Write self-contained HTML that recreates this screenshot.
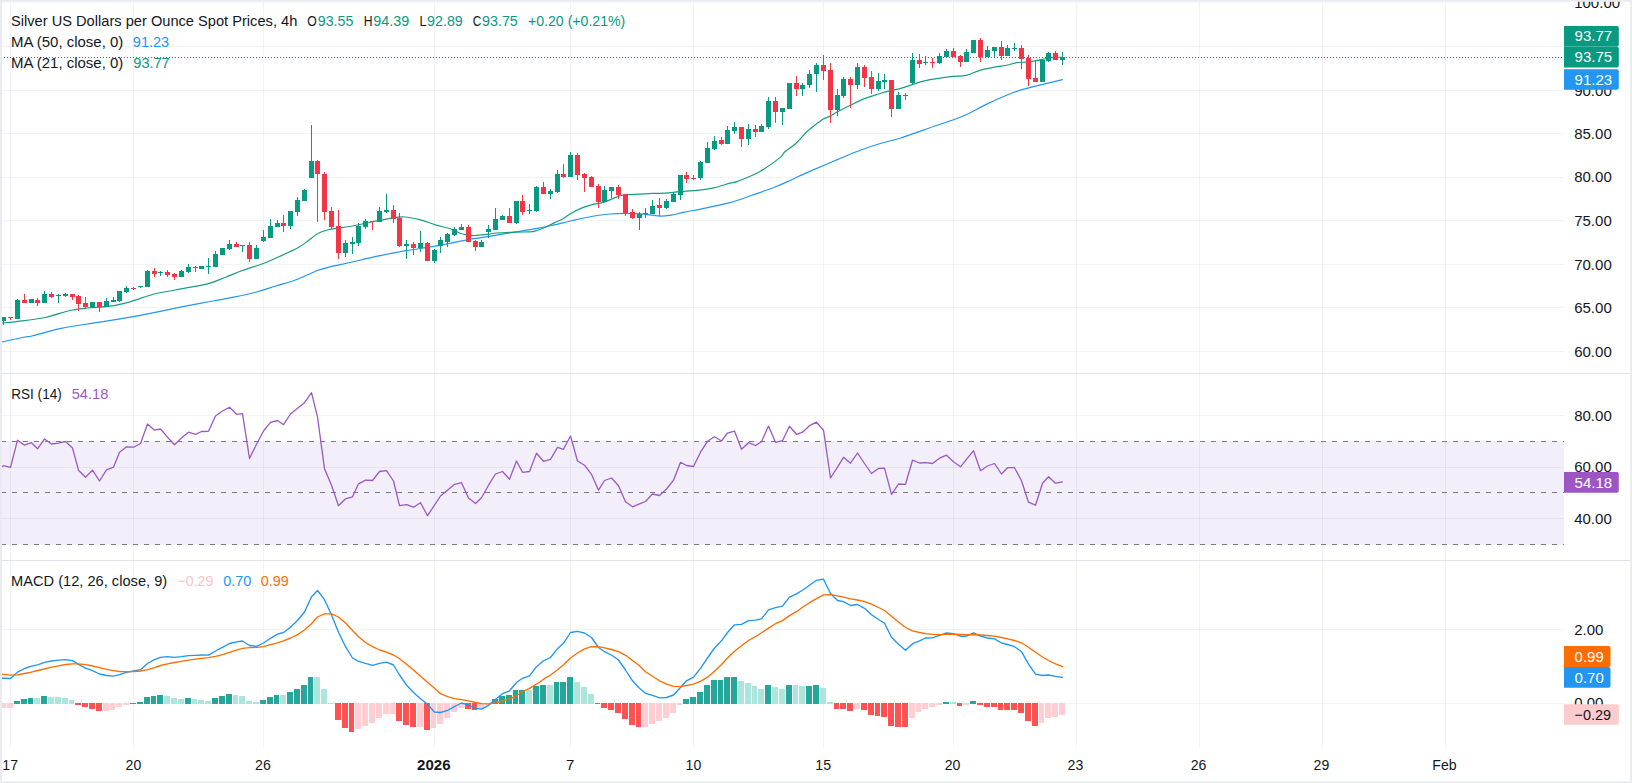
<!DOCTYPE html>
<html lang="en"><head><meta charset="utf-8"><title>Silver US Dollars per Ounce Spot Prices, 4h</title>
<style>html,body{margin:0;padding:0;background:#fff;overflow:hidden}svg{display:block}</style></head>
<body>
<svg width="1632" height="783" viewBox="0 0 1632 783" font-family='"Liberation Sans", "DejaVu Sans", sans-serif' font-size="15">
<rect width="1632" height="783" fill="#fff"/>
<rect x="2" y="441" width="1562" height="104" fill="#f2eefa"/>
<g fill="rgba(42,46,57,0.06)" shape-rendering="crispEdges">
<rect x="10" y="2" width="1" height="745"/>
<rect x="133" y="2" width="1" height="745"/>
<rect x="263" y="2" width="1" height="745"/>
<rect x="434" y="2" width="1" height="745"/>
<rect x="570" y="2" width="1" height="745"/>
<rect x="693" y="2" width="1" height="745"/>
<rect x="823" y="2" width="1" height="745"/>
<rect x="953" y="2" width="1" height="745"/>
<rect x="1076" y="2" width="1" height="745"/>
<rect x="1199" y="2" width="1" height="745"/>
<rect x="1322" y="2" width="1" height="745"/>
<rect x="1445" y="2" width="1" height="745"/>
<rect x="2" y="46" width="1562" height="1"/>
<rect x="2" y="90" width="1562" height="1"/>
<rect x="2" y="133" width="1562" height="1"/>
<rect x="2" y="177" width="1562" height="1"/>
<rect x="2" y="220" width="1562" height="1"/>
<rect x="2" y="264" width="1562" height="1"/>
<rect x="2" y="307" width="1562" height="1"/>
<rect x="2" y="351" width="1562" height="1"/>
<rect x="2" y="415" width="1562" height="1"/>
<rect x="2" y="467" width="1562" height="1"/>
<rect x="2" y="518" width="1562" height="1"/>
<rect x="2" y="629" width="1562" height="1"/>
<rect x="2" y="703" width="1562" height="1"/>
</g>
<rect x="2" y="373" width="1628" height="1" fill="#e0e3eb" shape-rendering="crispEdges"/>
<rect x="2" y="560" width="1628" height="1" fill="#e0e3eb" shape-rendering="crispEdges"/>
<line x1="1" x2="1564" y1="441.5" y2="441.5" stroke="#787b86" stroke-width="1" stroke-dasharray="5 6" shape-rendering="crispEdges"/>
<line x1="1" x2="1564" y1="492.5" y2="492.5" stroke="#787b86" stroke-width="1" stroke-dasharray="5 6" shape-rendering="crispEdges"/>
<line x1="1" x2="1564" y1="544.5" y2="544.5" stroke="#787b86" stroke-width="1" stroke-dasharray="5 6" shape-rendering="crispEdges"/>
<path d="M-4.0,343.3C-3.0,343.1 -2.8,343.1 2.0,342.0C6.8,340.9 20.0,338.0 25.0,337.0C30.0,336.0 25.9,337.4 31.9,336.0C37.9,334.6 50.3,330.7 61.3,328.4C72.3,326.1 86.0,324.3 98.1,322.3C110.2,320.3 123.0,318.5 133.8,316.6C144.5,314.7 151.5,313.0 162.5,310.8C173.5,308.6 189.6,305.3 200.0,303.3C210.4,301.3 215.8,300.6 225.0,298.8C234.2,296.9 246.7,294.6 255.0,292.5C263.3,290.4 267.9,288.5 275.0,286.2C282.1,284.0 290.4,281.9 297.5,279.2C304.6,276.6 311.7,272.7 317.5,270.5C323.3,268.3 327.1,267.6 332.5,266.2C337.9,264.9 342.1,264.3 350.0,262.5C357.9,260.7 370.9,257.6 380.0,255.7C389.1,253.8 395.3,252.5 404.5,250.9C413.7,249.3 425.0,248.0 435.2,246.2C445.4,244.4 457.0,241.7 465.8,240.1C474.6,238.5 479.7,238.0 487.9,236.7C496.1,235.4 506.9,233.4 514.9,232.1C522.9,230.8 529.6,229.8 535.7,228.7C541.8,227.6 545.9,226.8 551.7,225.5C557.5,224.2 563.9,222.5 570.5,221.0C577.1,219.5 584.8,217.7 591.3,216.5C597.8,215.3 604.0,214.5 609.7,214.0C615.4,213.5 620.5,213.4 625.6,213.4C630.7,213.4 635.9,213.5 640.4,213.8C644.9,214.1 649.3,214.8 652.6,215.2C655.9,215.6 656.9,216.1 660.0,216.1C663.1,216.1 667.1,215.8 671.0,215.2C674.9,214.6 678.2,213.5 683.3,212.4C688.4,211.3 693.9,210.4 701.7,208.8C709.5,207.2 721.7,204.8 730.0,202.6C738.3,200.3 744.2,197.9 751.7,195.3C759.2,192.7 768.6,189.5 775.0,187.0C781.4,184.5 784.5,183.0 790.0,180.5C795.5,178.0 801.3,175.0 808.0,172.1C814.7,169.2 822.0,166.2 830.0,162.8C838.0,159.5 847.7,155.1 855.7,152.0C863.7,148.9 870.4,146.6 877.8,144.3C885.2,142.0 891.3,140.9 900.0,138.2C908.7,135.4 919.5,131.5 930.0,127.8C940.5,124.1 953.9,119.9 963.2,116.0C972.5,112.1 977.3,108.5 985.8,104.6C994.3,100.6 1006.8,95.1 1014.0,92.3C1021.2,89.5 1023.0,89.4 1028.8,87.8C1034.6,86.2 1043.4,84.1 1049.0,82.8C1054.6,81.5 1060.2,80.2 1062.5,79.7" fill="none" stroke="#2196f3" stroke-width="1.2" stroke-linejoin="round" stroke-linecap="round"/>
<path d="M-4.0,323.6C-3.0,323.5 -1.2,323.3 2.0,323.0C5.2,322.7 7.8,322.7 15.0,321.8C22.2,320.8 35.8,319.4 45.0,317.5C54.2,315.6 62.9,312.1 70.0,310.5C77.1,308.9 80.8,308.7 87.5,308.0C94.2,307.3 102.9,307.3 110.0,306.2C117.1,305.2 122.9,303.7 130.0,301.8C137.1,299.8 145.0,296.5 152.5,294.5C160.0,292.5 165.8,291.8 175.0,290.0C184.2,288.2 199.2,285.8 207.5,283.8C215.8,281.7 219.2,279.7 225.0,277.5C230.8,275.3 236.2,272.8 242.5,270.5C248.8,268.2 256.2,266.1 262.5,263.8C268.8,261.4 274.2,258.9 280.0,256.2C285.8,253.6 292.9,250.5 297.5,248.0C302.1,245.5 304.2,243.6 307.5,241.2C310.8,238.9 314.2,235.6 317.5,233.8C320.8,231.9 324.2,230.9 327.5,230.0C330.8,229.1 332.9,229.0 337.5,228.2C342.1,227.5 348.8,226.7 355.0,225.5C361.2,224.3 370.8,222.1 375.0,221.2C379.2,220.4 377.1,221.2 380.0,220.6C382.9,220.0 388.2,218.4 392.3,217.8C396.4,217.2 399.8,216.7 404.5,217.0C409.2,217.3 415.4,218.6 420.5,219.9C425.6,221.2 430.1,223.3 435.2,224.8C440.3,226.3 447.0,227.6 451.1,229.0C455.2,230.4 457.2,232.1 459.7,233.0C462.1,233.9 463.4,234.2 465.8,234.6C468.2,235.0 470.7,235.6 474.4,235.5C478.1,235.4 484.2,234.7 487.9,234.3C491.6,233.9 492.0,233.4 496.5,233.0C501.0,232.6 509.4,232.3 514.9,232.1C520.4,231.9 526.1,232.1 529.6,231.9C533.1,231.7 533.1,231.7 535.7,230.9C538.4,230.1 542.4,228.5 545.5,227.2C548.6,225.9 551.2,224.3 554.1,222.9C557.0,221.5 560.0,220.5 562.7,219.0C565.4,217.5 567.0,215.6 570.3,213.7C573.6,211.8 578.8,209.2 582.7,207.6C586.6,206.0 590.3,205.1 593.8,204.2C597.3,203.3 599.9,203.4 603.6,202.3C607.3,201.2 612.5,198.6 615.8,197.4C619.1,196.2 620.1,195.5 623.2,195.0C626.3,194.5 629.3,194.7 634.2,194.4C639.1,194.1 647.5,193.6 652.6,193.4C657.7,193.2 660.4,193.5 664.9,193.2C669.4,192.9 673.5,192.3 679.6,191.7C685.7,191.1 696.0,190.4 701.7,189.8C707.4,189.2 709.2,189.0 713.9,187.9C718.6,186.8 726.1,184.3 730.0,183.2C733.9,182.1 732.5,183.4 737.5,181.4C742.5,179.4 752.9,175.4 760.0,171.4C767.1,167.4 775.9,160.8 780.0,157.6C784.1,154.4 782.0,154.3 784.6,152.0C787.2,149.7 791.7,147.2 795.6,143.7C799.5,140.2 803.4,134.9 807.9,130.8C812.4,126.8 818.8,121.9 822.6,119.4C826.4,117.0 828.0,117.4 830.5,116.1C833.0,114.8 834.1,113.6 837.5,111.8C840.9,110.0 846.3,107.2 850.8,105.0C855.3,102.8 859.8,100.4 864.4,98.6C869.0,96.8 874.5,95.2 878.4,94.0C882.3,92.8 884.0,92.2 887.6,91.3C891.2,90.4 895.9,89.7 900.0,88.6C904.1,87.5 908.2,85.9 912.3,84.6C916.4,83.3 920.4,81.9 924.5,80.9C928.6,79.9 932.0,79.3 936.8,78.6C941.6,77.8 948.4,76.9 953.3,76.4C958.2,75.9 961.8,76.4 966.2,75.4C970.6,74.4 975.0,71.7 979.7,70.3C984.4,68.9 989.7,68.1 994.4,67.2C999.1,66.3 1004.2,65.8 1007.9,65.0C1011.6,64.2 1013.4,63.1 1016.5,62.6C1019.6,62.1 1023.2,62.4 1026.3,62.1C1029.4,61.8 1032.2,61.3 1034.9,60.8C1037.6,60.3 1039.9,59.8 1042.2,59.3C1044.5,58.8 1046.8,58.3 1049.0,58.0C1051.2,57.7 1053.5,57.4 1055.7,57.3C1058.0,57.2 1061.4,57.3 1062.5,57.3" fill="none" stroke="#1a9c82" stroke-width="1.2" stroke-linejoin="round" stroke-linecap="round"/>
<g shape-rendering="crispEdges">
<rect x="3" y="317" width="1" height="8" fill="#089981"/>
<rect x="1" y="317" width="5" height="4" fill="#089981"/>
<rect x="10" y="317" width="1" height="3" fill="#f23645"/>
<rect x="8" y="317" width="5" height="1" fill="#f23645"/>
<rect x="17" y="299" width="1" height="20" fill="#089981"/>
<rect x="15" y="300" width="5" height="19" fill="#089981"/>
<rect x="24" y="294" width="1" height="9" fill="#f23645"/>
<rect x="22" y="300" width="5" height="3" fill="#f23645"/>
<rect x="31" y="299" width="1" height="4" fill="#089981"/>
<rect x="29" y="299" width="5" height="4" fill="#089981"/>
<rect x="37" y="298" width="1" height="8" fill="#f23645"/>
<rect x="35" y="300" width="5" height="3" fill="#f23645"/>
<rect x="44" y="291" width="1" height="12" fill="#089981"/>
<rect x="42" y="294" width="5" height="9" fill="#089981"/>
<rect x="51" y="292" width="1" height="6" fill="#f23645"/>
<rect x="49" y="294" width="5" height="3" fill="#f23645"/>
<rect x="58" y="294" width="1" height="9" fill="#089981"/>
<rect x="56" y="295" width="5" height="1" fill="#089981"/>
<rect x="65" y="293" width="1" height="4" fill="#089981"/>
<rect x="63" y="294" width="5" height="2" fill="#089981"/>
<rect x="72" y="294" width="1" height="6" fill="#f23645"/>
<rect x="70" y="294" width="5" height="3" fill="#f23645"/>
<rect x="78" y="295" width="1" height="16" fill="#f23645"/>
<rect x="76" y="296" width="5" height="8" fill="#f23645"/>
<rect x="85" y="297" width="1" height="12" fill="#f23645"/>
<rect x="83" y="303" width="5" height="4" fill="#f23645"/>
<rect x="92" y="302" width="1" height="5" fill="#089981"/>
<rect x="90" y="302" width="5" height="5" fill="#089981"/>
<rect x="99" y="302" width="1" height="10" fill="#f23645"/>
<rect x="97" y="302" width="5" height="5" fill="#f23645"/>
<rect x="106" y="298" width="1" height="9" fill="#089981"/>
<rect x="104" y="301" width="5" height="6" fill="#089981"/>
<rect x="113" y="297" width="1" height="5" fill="#089981"/>
<rect x="111" y="300" width="5" height="2" fill="#089981"/>
<rect x="119" y="291" width="1" height="11" fill="#089981"/>
<rect x="117" y="291" width="5" height="10" fill="#089981"/>
<rect x="126" y="286" width="1" height="7" fill="#089981"/>
<rect x="124" y="288" width="5" height="4" fill="#089981"/>
<rect x="133" y="287" width="1" height="3" fill="#f23645"/>
<rect x="131" y="288" width="5" height="1" fill="#f23645"/>
<rect x="140" y="286" width="1" height="2" fill="#089981"/>
<rect x="138" y="286" width="5" height="1" fill="#089981"/>
<rect x="147" y="270" width="1" height="17" fill="#089981"/>
<rect x="145" y="271" width="5" height="16" fill="#089981"/>
<rect x="154" y="268" width="1" height="9" fill="#f23645"/>
<rect x="152" y="271" width="5" height="3" fill="#f23645"/>
<rect x="160" y="271" width="1" height="5" fill="#089981"/>
<rect x="158" y="272" width="5" height="1" fill="#089981"/>
<rect x="167" y="270" width="1" height="7" fill="#f23645"/>
<rect x="165" y="272" width="5" height="3" fill="#f23645"/>
<rect x="174" y="273" width="1" height="7" fill="#f23645"/>
<rect x="172" y="274" width="5" height="3" fill="#f23645"/>
<rect x="181" y="270" width="1" height="7" fill="#089981"/>
<rect x="179" y="271" width="5" height="6" fill="#089981"/>
<rect x="188" y="264" width="1" height="9" fill="#089981"/>
<rect x="186" y="267" width="5" height="5" fill="#089981"/>
<rect x="195" y="266" width="1" height="6" fill="#f23645"/>
<rect x="193" y="267" width="5" height="1" fill="#f23645"/>
<rect x="201" y="266" width="1" height="3" fill="#089981"/>
<rect x="199" y="266" width="5" height="3" fill="#089981"/>
<rect x="208" y="258" width="1" height="16" fill="#089981"/>
<rect x="206" y="266" width="5" height="1" fill="#089981"/>
<rect x="215" y="251" width="1" height="16" fill="#089981"/>
<rect x="213" y="254" width="5" height="13" fill="#089981"/>
<rect x="222" y="248" width="1" height="7" fill="#089981"/>
<rect x="220" y="248" width="5" height="7" fill="#089981"/>
<rect x="229" y="240" width="1" height="10" fill="#089981"/>
<rect x="227" y="244" width="5" height="5" fill="#089981"/>
<rect x="236" y="242" width="1" height="5" fill="#f23645"/>
<rect x="234" y="244" width="5" height="3" fill="#f23645"/>
<rect x="242" y="245" width="1" height="7" fill="#089981"/>
<rect x="240" y="245" width="5" height="1" fill="#089981"/>
<rect x="249" y="242" width="1" height="20" fill="#f23645"/>
<rect x="247" y="245" width="5" height="14" fill="#f23645"/>
<rect x="256" y="245" width="1" height="14" fill="#089981"/>
<rect x="254" y="248" width="5" height="11" fill="#089981"/>
<rect x="263" y="230" width="1" height="12" fill="#089981"/>
<rect x="261" y="237" width="5" height="4" fill="#089981"/>
<rect x="270" y="219" width="1" height="19" fill="#089981"/>
<rect x="268" y="226" width="5" height="12" fill="#089981"/>
<rect x="277" y="220" width="1" height="7" fill="#089981"/>
<rect x="275" y="223" width="5" height="4" fill="#089981"/>
<rect x="283" y="215" width="1" height="17" fill="#f23645"/>
<rect x="281" y="223" width="5" height="3" fill="#f23645"/>
<rect x="290" y="211" width="1" height="18" fill="#089981"/>
<rect x="288" y="211" width="5" height="15" fill="#089981"/>
<rect x="297" y="197" width="1" height="19" fill="#089981"/>
<rect x="295" y="200" width="5" height="12" fill="#089981"/>
<rect x="304" y="189" width="1" height="12" fill="#089981"/>
<rect x="302" y="190" width="5" height="11" fill="#089981"/>
<rect x="311" y="125" width="1" height="53" fill="#089981"/>
<rect x="309" y="161" width="5" height="17" fill="#089981"/>
<rect x="317" y="160" width="1" height="62" fill="#f23645"/>
<rect x="315" y="161" width="5" height="13" fill="#f23645"/>
<rect x="324" y="172" width="1" height="48" fill="#f23645"/>
<rect x="322" y="174" width="5" height="38" fill="#f23645"/>
<rect x="331" y="207" width="1" height="22" fill="#f23645"/>
<rect x="329" y="211" width="5" height="16" fill="#f23645"/>
<rect x="338" y="210" width="1" height="49" fill="#f23645"/>
<rect x="336" y="226" width="5" height="27" fill="#f23645"/>
<rect x="345" y="240" width="1" height="17" fill="#089981"/>
<rect x="343" y="243" width="5" height="10" fill="#089981"/>
<rect x="352" y="237" width="1" height="17" fill="#089981"/>
<rect x="350" y="242" width="5" height="2" fill="#089981"/>
<rect x="358" y="223" width="1" height="23" fill="#089981"/>
<rect x="356" y="226" width="5" height="17" fill="#089981"/>
<rect x="365" y="219" width="1" height="10" fill="#089981"/>
<rect x="363" y="221" width="5" height="6" fill="#089981"/>
<rect x="372" y="221" width="1" height="9" fill="#f23645"/>
<rect x="370" y="221" width="5" height="1" fill="#f23645"/>
<rect x="379" y="207" width="1" height="15" fill="#089981"/>
<rect x="377" y="211" width="5" height="11" fill="#089981"/>
<rect x="386" y="194" width="1" height="19" fill="#089981"/>
<rect x="384" y="210" width="5" height="2" fill="#089981"/>
<rect x="393" y="205" width="1" height="18" fill="#f23645"/>
<rect x="391" y="210" width="5" height="9" fill="#f23645"/>
<rect x="399" y="213" width="1" height="34" fill="#f23645"/>
<rect x="397" y="218" width="5" height="28" fill="#f23645"/>
<rect x="406" y="240" width="1" height="19" fill="#089981"/>
<rect x="404" y="244" width="5" height="2" fill="#089981"/>
<rect x="413" y="242" width="1" height="13" fill="#f23645"/>
<rect x="411" y="244" width="5" height="4" fill="#f23645"/>
<rect x="420" y="231" width="1" height="21" fill="#089981"/>
<rect x="418" y="243" width="5" height="5" fill="#089981"/>
<rect x="427" y="242" width="1" height="19" fill="#f23645"/>
<rect x="425" y="243" width="5" height="18" fill="#f23645"/>
<rect x="434" y="249" width="1" height="14" fill="#089981"/>
<rect x="432" y="250" width="5" height="11" fill="#089981"/>
<rect x="440" y="237" width="1" height="16" fill="#089981"/>
<rect x="438" y="240" width="5" height="6" fill="#089981"/>
<rect x="447" y="233" width="1" height="14" fill="#089981"/>
<rect x="445" y="234" width="5" height="8" fill="#089981"/>
<rect x="454" y="227" width="1" height="9" fill="#089981"/>
<rect x="452" y="229" width="5" height="6" fill="#089981"/>
<rect x="461" y="224" width="1" height="6" fill="#089981"/>
<rect x="459" y="227" width="5" height="3" fill="#089981"/>
<rect x="468" y="225" width="1" height="17" fill="#f23645"/>
<rect x="466" y="227" width="5" height="15" fill="#f23645"/>
<rect x="475" y="240" width="1" height="11" fill="#f23645"/>
<rect x="473" y="241" width="5" height="6" fill="#f23645"/>
<rect x="481" y="240" width="1" height="7" fill="#089981"/>
<rect x="479" y="242" width="5" height="5" fill="#089981"/>
<rect x="488" y="225" width="1" height="13" fill="#089981"/>
<rect x="486" y="229" width="5" height="3" fill="#089981"/>
<rect x="495" y="208" width="1" height="22" fill="#089981"/>
<rect x="493" y="219" width="5" height="11" fill="#089981"/>
<rect x="502" y="215" width="1" height="5" fill="#089981"/>
<rect x="500" y="216" width="5" height="4" fill="#089981"/>
<rect x="509" y="208" width="1" height="15" fill="#f23645"/>
<rect x="507" y="216" width="5" height="7" fill="#f23645"/>
<rect x="516" y="201" width="1" height="23" fill="#089981"/>
<rect x="514" y="201" width="5" height="22" fill="#089981"/>
<rect x="522" y="195" width="1" height="20" fill="#f23645"/>
<rect x="520" y="201" width="5" height="11" fill="#f23645"/>
<rect x="529" y="204" width="1" height="10" fill="#089981"/>
<rect x="527" y="210" width="5" height="1" fill="#089981"/>
<rect x="536" y="186" width="1" height="26" fill="#089981"/>
<rect x="534" y="187" width="5" height="24" fill="#089981"/>
<rect x="543" y="182" width="1" height="12" fill="#f23645"/>
<rect x="541" y="187" width="5" height="7" fill="#f23645"/>
<rect x="550" y="189" width="1" height="10" fill="#089981"/>
<rect x="548" y="191" width="5" height="3" fill="#089981"/>
<rect x="557" y="170" width="1" height="23" fill="#089981"/>
<rect x="555" y="174" width="5" height="18" fill="#089981"/>
<rect x="563" y="164" width="1" height="14" fill="#f23645"/>
<rect x="561" y="174" width="5" height="3" fill="#f23645"/>
<rect x="570" y="152" width="1" height="25" fill="#089981"/>
<rect x="568" y="155" width="5" height="22" fill="#089981"/>
<rect x="577" y="153" width="1" height="27" fill="#f23645"/>
<rect x="575" y="155" width="5" height="20" fill="#f23645"/>
<rect x="584" y="173" width="1" height="19" fill="#f23645"/>
<rect x="582" y="174" width="5" height="4" fill="#f23645"/>
<rect x="591" y="176" width="1" height="11" fill="#f23645"/>
<rect x="589" y="177" width="5" height="10" fill="#f23645"/>
<rect x="598" y="184" width="1" height="24" fill="#f23645"/>
<rect x="596" y="186" width="5" height="16" fill="#f23645"/>
<rect x="604" y="186" width="1" height="16" fill="#089981"/>
<rect x="602" y="190" width="5" height="12" fill="#089981"/>
<rect x="611" y="187" width="1" height="11" fill="#089981"/>
<rect x="609" y="187" width="5" height="4" fill="#089981"/>
<rect x="618" y="185" width="1" height="14" fill="#f23645"/>
<rect x="616" y="187" width="5" height="8" fill="#f23645"/>
<rect x="625" y="194" width="1" height="22" fill="#f23645"/>
<rect x="623" y="194" width="5" height="19" fill="#f23645"/>
<rect x="632" y="209" width="1" height="10" fill="#f23645"/>
<rect x="630" y="212" width="5" height="6" fill="#f23645"/>
<rect x="639" y="212" width="1" height="18" fill="#089981"/>
<rect x="637" y="214" width="5" height="4" fill="#089981"/>
<rect x="645" y="208" width="1" height="10" fill="#089981"/>
<rect x="643" y="213" width="5" height="1" fill="#089981"/>
<rect x="652" y="200" width="1" height="14" fill="#089981"/>
<rect x="650" y="206" width="5" height="8" fill="#089981"/>
<rect x="659" y="198" width="1" height="18" fill="#f23645"/>
<rect x="657" y="205" width="5" height="3" fill="#f23645"/>
<rect x="666" y="199" width="1" height="10" fill="#089981"/>
<rect x="664" y="201" width="5" height="7" fill="#089981"/>
<rect x="673" y="192" width="1" height="10" fill="#089981"/>
<rect x="671" y="194" width="5" height="8" fill="#089981"/>
<rect x="680" y="175" width="1" height="25" fill="#089981"/>
<rect x="678" y="175" width="5" height="20" fill="#089981"/>
<rect x="686" y="172" width="1" height="11" fill="#f23645"/>
<rect x="684" y="175" width="5" height="4" fill="#f23645"/>
<rect x="693" y="175" width="1" height="5" fill="#f23645"/>
<rect x="691" y="178" width="5" height="1" fill="#f23645"/>
<rect x="700" y="161" width="1" height="19" fill="#089981"/>
<rect x="698" y="162" width="5" height="16" fill="#089981"/>
<rect x="707" y="142" width="1" height="21" fill="#089981"/>
<rect x="705" y="148" width="5" height="15" fill="#089981"/>
<rect x="714" y="136" width="1" height="14" fill="#089981"/>
<rect x="712" y="141" width="5" height="8" fill="#089981"/>
<rect x="721" y="137" width="1" height="8" fill="#f23645"/>
<rect x="719" y="140" width="5" height="4" fill="#f23645"/>
<rect x="727" y="126" width="1" height="18" fill="#089981"/>
<rect x="725" y="130" width="5" height="14" fill="#089981"/>
<rect x="734" y="122" width="1" height="12" fill="#089981"/>
<rect x="732" y="127" width="5" height="4" fill="#089981"/>
<rect x="741" y="127" width="1" height="20" fill="#f23645"/>
<rect x="739" y="127" width="5" height="12" fill="#f23645"/>
<rect x="748" y="124" width="1" height="21" fill="#089981"/>
<rect x="746" y="129" width="5" height="10" fill="#089981"/>
<rect x="755" y="125" width="1" height="12" fill="#f23645"/>
<rect x="753" y="129" width="5" height="3" fill="#f23645"/>
<rect x="761" y="124" width="1" height="8" fill="#089981"/>
<rect x="759" y="126" width="5" height="6" fill="#089981"/>
<rect x="768" y="97" width="1" height="32" fill="#089981"/>
<rect x="766" y="101" width="5" height="26" fill="#089981"/>
<rect x="775" y="97" width="1" height="26" fill="#f23645"/>
<rect x="773" y="101" width="5" height="11" fill="#f23645"/>
<rect x="782" y="108" width="1" height="17" fill="#089981"/>
<rect x="780" y="108" width="5" height="4" fill="#089981"/>
<rect x="789" y="83" width="1" height="26" fill="#089981"/>
<rect x="787" y="83" width="5" height="26" fill="#089981"/>
<rect x="796" y="76" width="1" height="20" fill="#f23645"/>
<rect x="794" y="83" width="5" height="6" fill="#f23645"/>
<rect x="802" y="83" width="1" height="13" fill="#089981"/>
<rect x="800" y="85" width="5" height="4" fill="#089981"/>
<rect x="809" y="70" width="1" height="18" fill="#089981"/>
<rect x="807" y="74" width="5" height="11" fill="#089981"/>
<rect x="816" y="63" width="1" height="29" fill="#089981"/>
<rect x="814" y="65" width="5" height="9" fill="#089981"/>
<rect x="823" y="55" width="1" height="25" fill="#f23645"/>
<rect x="821" y="65" width="5" height="6" fill="#f23645"/>
<rect x="830" y="63" width="1" height="60" fill="#f23645"/>
<rect x="828" y="70" width="5" height="40" fill="#f23645"/>
<rect x="837" y="89" width="1" height="27" fill="#089981"/>
<rect x="835" y="95" width="5" height="15" fill="#089981"/>
<rect x="843" y="77" width="1" height="21" fill="#089981"/>
<rect x="841" y="79" width="5" height="17" fill="#089981"/>
<rect x="850" y="77" width="1" height="31" fill="#f23645"/>
<rect x="848" y="79" width="5" height="6" fill="#f23645"/>
<rect x="857" y="63" width="1" height="26" fill="#089981"/>
<rect x="855" y="67" width="5" height="18" fill="#089981"/>
<rect x="864" y="65" width="1" height="22" fill="#f23645"/>
<rect x="862" y="67" width="5" height="11" fill="#f23645"/>
<rect x="871" y="71" width="1" height="23" fill="#f23645"/>
<rect x="869" y="77" width="5" height="12" fill="#f23645"/>
<rect x="878" y="73" width="1" height="18" fill="#089981"/>
<rect x="876" y="81" width="5" height="8" fill="#089981"/>
<rect x="884" y="74" width="1" height="15" fill="#089981"/>
<rect x="882" y="80" width="5" height="2" fill="#089981"/>
<rect x="891" y="80" width="1" height="37" fill="#f23645"/>
<rect x="889" y="80" width="5" height="29" fill="#f23645"/>
<rect x="898" y="92" width="1" height="17" fill="#089981"/>
<rect x="896" y="95" width="5" height="14" fill="#089981"/>
<rect x="905" y="93" width="1" height="7" fill="#f23645"/>
<rect x="903" y="95" width="5" height="1" fill="#f23645"/>
<rect x="912" y="53" width="1" height="32" fill="#089981"/>
<rect x="910" y="60" width="5" height="23" fill="#089981"/>
<rect x="919" y="54" width="1" height="14" fill="#f23645"/>
<rect x="917" y="60" width="5" height="4" fill="#f23645"/>
<rect x="925" y="56" width="1" height="9" fill="#089981"/>
<rect x="923" y="62" width="5" height="1" fill="#089981"/>
<rect x="932" y="58" width="1" height="10" fill="#f23645"/>
<rect x="930" y="62" width="5" height="1" fill="#f23645"/>
<rect x="939" y="53" width="1" height="11" fill="#089981"/>
<rect x="937" y="56" width="5" height="7" fill="#089981"/>
<rect x="946" y="49" width="1" height="8" fill="#089981"/>
<rect x="944" y="51" width="5" height="6" fill="#089981"/>
<rect x="953" y="48" width="1" height="9" fill="#f23645"/>
<rect x="951" y="51" width="5" height="6" fill="#f23645"/>
<rect x="960" y="55" width="1" height="12" fill="#f23645"/>
<rect x="958" y="56" width="5" height="6" fill="#f23645"/>
<rect x="966" y="49" width="1" height="13" fill="#089981"/>
<rect x="964" y="52" width="5" height="10" fill="#089981"/>
<rect x="973" y="40" width="1" height="13" fill="#089981"/>
<rect x="971" y="40" width="5" height="13" fill="#089981"/>
<rect x="980" y="38" width="1" height="24" fill="#f23645"/>
<rect x="978" y="40" width="5" height="17" fill="#f23645"/>
<rect x="987" y="46" width="1" height="11" fill="#089981"/>
<rect x="985" y="50" width="5" height="7" fill="#089981"/>
<rect x="994" y="47" width="1" height="11" fill="#089981"/>
<rect x="992" y="47" width="5" height="4" fill="#089981"/>
<rect x="1001" y="41" width="1" height="19" fill="#f23645"/>
<rect x="999" y="47" width="5" height="9" fill="#f23645"/>
<rect x="1007" y="45" width="1" height="11" fill="#089981"/>
<rect x="1005" y="48" width="5" height="8" fill="#089981"/>
<rect x="1014" y="43" width="1" height="8" fill="#089981"/>
<rect x="1012" y="48" width="5" height="1" fill="#089981"/>
<rect x="1021" y="45" width="1" height="24" fill="#f23645"/>
<rect x="1019" y="48" width="5" height="11" fill="#f23645"/>
<rect x="1028" y="55" width="1" height="31" fill="#f23645"/>
<rect x="1026" y="58" width="5" height="21" fill="#f23645"/>
<rect x="1035" y="60" width="1" height="22" fill="#f23645"/>
<rect x="1033" y="78" width="5" height="4" fill="#f23645"/>
<rect x="1042" y="60" width="1" height="22" fill="#089981"/>
<rect x="1040" y="60" width="5" height="22" fill="#089981"/>
<rect x="1048" y="52" width="1" height="10" fill="#089981"/>
<rect x="1046" y="53" width="5" height="8" fill="#089981"/>
<rect x="1055" y="51" width="1" height="9" fill="#f23645"/>
<rect x="1053" y="53" width="5" height="7" fill="#f23645"/>
<rect x="1062" y="52" width="1" height="13" fill="#089981"/>
<rect x="1060" y="57" width="5" height="3" fill="#089981"/>
</g>
<line x1="1" x2="1564" y1="57.5" y2="57.5" stroke="#089981" stroke-width="1" stroke-dasharray="1 2" shape-rendering="crispEdges"/>
<polyline points="-3.3,469.5 3.5,465.7 10.5,467.3 17.5,440.2 24.5,445.2 31.5,442.7 37.5,448.8 44.5,439.0 51.5,444.0 58.5,443.2 65.5,441.5 72.5,448.0 78.5,470.2 85.5,477.2 92.5,470.2 99.5,481.0 106.5,469.8 113.5,467.2 119.5,452.3 126.5,446.8 133.5,447.2 140.5,443.5 147.5,424.0 154.5,430.2 160.5,429.0 167.5,437.2 174.5,444.8 181.5,438.0 188.5,432.2 195.5,434.3 201.5,431.5 208.5,431.3 215.5,416.0 222.5,411.0 229.5,407.2 236.5,414.3 242.5,413.7 249.5,458.5 256.5,444.3 263.5,431.0 270.5,422.3 277.5,420.5 283.5,424.7 290.5,414.0 297.5,408.2 304.5,402.7 311.5,392.7 317.5,416.8 324.5,468.8 331.5,485.2 338.5,505.7 345.5,498.8 352.5,496.8 358.5,483.8 365.5,480.2 372.5,480.5 379.5,471.5 386.5,470.7 393.5,481.0 399.5,505.7 406.5,504.7 413.5,507.2 420.5,502.7 427.5,515.7 434.5,505.2 440.5,496.0 447.5,490.2 454.5,484.3 461.5,482.7 468.5,498.0 475.5,503.5 481.5,497.7 488.5,485.2 495.5,474.0 502.5,471.5 509.5,479.3 516.5,461.0 522.5,472.3 529.5,471.5 536.5,453.2 543.5,461.3 550.5,459.3 557.5,447.3 563.5,449.3 570.5,436.0 577.5,461.0 584.5,465.2 591.5,474.3 598.5,490.2 604.5,480.5 611.5,478.0 618.5,485.7 625.5,501.8 632.5,506.8 639.5,503.8 645.5,501.5 652.5,494.0 659.5,495.5 666.5,489.0 673.5,480.2 680.5,462.3 686.5,465.5 693.5,466.5 700.5,452.2 707.5,441.3 714.5,436.8 721.5,441.0 727.5,433.0 734.5,431.0 741.5,449.3 748.5,442.7 755.5,445.5 761.5,441.8 768.5,426.0 775.5,442.3 782.5,440.7 789.5,426.3 796.5,434.3 802.5,432.2 809.5,425.7 816.5,422.2 823.5,430.2 830.5,478.0 837.5,467.2 843.5,457.3 850.5,463.2 857.5,453.0 864.5,463.5 871.5,473.5 878.5,468.5 884.5,468.2 891.5,494.3 898.5,484.0 905.5,484.3 912.5,460.2 919.5,463.0 925.5,462.7 932.5,463.5 939.5,458.2 946.5,455.2 953.5,461.8 960.5,466.8 966.5,459.3 973.5,450.7 980.5,470.7 987.5,466.0 994.5,463.5 1001.5,474.0 1007.5,467.7 1014.5,467.7 1021.5,480.7 1028.5,502.2 1035.5,505.2 1042.5,483.2 1048.5,476.8 1055.5,483.2 1062.5,481.8" fill="none" stroke="#9b59c8" stroke-width="1.3" stroke-linejoin="round" stroke-linecap="round"/>
<g shape-rendering="crispEdges">
<rect x="0" y="703" width="6" height="5" fill="#ffcdd2"/>
<rect x="7" y="703" width="6" height="5" fill="#ffcdd2"/>
<rect x="14" y="701" width="6" height="3" fill="#26a69a"/>
<rect x="21" y="699" width="6" height="5" fill="#26a69a"/>
<rect x="28" y="698" width="5" height="6" fill="#26a69a"/>
<rect x="34" y="698" width="6" height="6" fill="#ace5dc"/>
<rect x="41" y="696" width="6" height="8" fill="#26a69a"/>
<rect x="48" y="697" width="6" height="7" fill="#ace5dc"/>
<rect x="55" y="697" width="6" height="7" fill="#ace5dc"/>
<rect x="62" y="698" width="6" height="6" fill="#ace5dc"/>
<rect x="69" y="700" width="5" height="4" fill="#ace5dc"/>
<rect x="75" y="703" width="6" height="2" fill="#ff5252"/>
<rect x="82" y="703" width="6" height="4" fill="#ff5252"/>
<rect x="89" y="703" width="6" height="6" fill="#ff5252"/>
<rect x="96" y="703" width="6" height="8" fill="#ff5252"/>
<rect x="103" y="703" width="6" height="8" fill="#ffcdd2"/>
<rect x="110" y="703" width="5" height="7" fill="#ffcdd2"/>
<rect x="116" y="703" width="6" height="4" fill="#ffcdd2"/>
<rect x="123" y="703" width="6" height="2" fill="#ffcdd2"/>
<rect x="130" y="703" width="6" height="1" fill="#26a69a"/>
<rect x="137" y="702" width="6" height="2" fill="#26a69a"/>
<rect x="144" y="697" width="6" height="7" fill="#26a69a"/>
<rect x="151" y="696" width="5" height="8" fill="#26a69a"/>
<rect x="157" y="695" width="6" height="9" fill="#26a69a"/>
<rect x="164" y="696" width="6" height="8" fill="#ace5dc"/>
<rect x="171" y="698" width="6" height="6" fill="#ace5dc"/>
<rect x="178" y="699" width="6" height="5" fill="#ace5dc"/>
<rect x="185" y="698" width="6" height="6" fill="#26a69a"/>
<rect x="192" y="699" width="5" height="5" fill="#ace5dc"/>
<rect x="198" y="700" width="6" height="4" fill="#ace5dc"/>
<rect x="205" y="701" width="6" height="3" fill="#ace5dc"/>
<rect x="212" y="698" width="6" height="6" fill="#26a69a"/>
<rect x="219" y="696" width="6" height="8" fill="#26a69a"/>
<rect x="226" y="694" width="6" height="10" fill="#26a69a"/>
<rect x="233" y="695" width="5" height="9" fill="#ace5dc"/>
<rect x="239" y="696" width="6" height="8" fill="#ace5dc"/>
<rect x="246" y="701" width="6" height="3" fill="#ace5dc"/>
<rect x="253" y="702" width="6" height="2" fill="#ace5dc"/>
<rect x="260" y="700" width="6" height="4" fill="#26a69a"/>
<rect x="267" y="697" width="6" height="7" fill="#26a69a"/>
<rect x="274" y="695" width="5" height="9" fill="#26a69a"/>
<rect x="280" y="695" width="6" height="9" fill="#ace5dc"/>
<rect x="287" y="692" width="6" height="12" fill="#26a69a"/>
<rect x="294" y="689" width="6" height="15" fill="#26a69a"/>
<rect x="301" y="685" width="6" height="19" fill="#26a69a"/>
<rect x="308" y="677" width="5" height="27" fill="#26a69a"/>
<rect x="314" y="677" width="6" height="27" fill="#ace5dc"/>
<rect x="321" y="689" width="6" height="15" fill="#ace5dc"/>
<rect x="328" y="703" width="6" height="1" fill="#ace5dc"/>
<rect x="335" y="703" width="6" height="17" fill="#ff5252"/>
<rect x="342" y="703" width="6" height="25" fill="#ff5252"/>
<rect x="349" y="703" width="5" height="29" fill="#ff5252"/>
<rect x="355" y="703" width="6" height="26" fill="#ffcdd2"/>
<rect x="362" y="703" width="6" height="23" fill="#ffcdd2"/>
<rect x="369" y="703" width="6" height="20" fill="#ffcdd2"/>
<rect x="376" y="703" width="6" height="15" fill="#ffcdd2"/>
<rect x="383" y="703" width="6" height="11" fill="#ffcdd2"/>
<rect x="390" y="703" width="5" height="11" fill="#ffcdd2"/>
<rect x="396" y="703" width="6" height="18" fill="#ff5252"/>
<rect x="403" y="703" width="6" height="22" fill="#ff5252"/>
<rect x="410" y="703" width="6" height="24" fill="#ff5252"/>
<rect x="417" y="703" width="6" height="24" fill="#ffcdd2"/>
<rect x="424" y="703" width="6" height="27" fill="#ff5252"/>
<rect x="431" y="703" width="5" height="25" fill="#ffcdd2"/>
<rect x="437" y="703" width="6" height="21" fill="#ffcdd2"/>
<rect x="444" y="703" width="6" height="15" fill="#ffcdd2"/>
<rect x="451" y="703" width="6" height="9" fill="#ffcdd2"/>
<rect x="458" y="703" width="6" height="5" fill="#ffcdd2"/>
<rect x="465" y="703" width="6" height="6" fill="#ff5252"/>
<rect x="472" y="703" width="5" height="7" fill="#ff5252"/>
<rect x="478" y="703" width="6" height="6" fill="#ffcdd2"/>
<rect x="485" y="703" width="6" height="2" fill="#ffcdd2"/>
<rect x="492" y="699" width="6" height="5" fill="#26a69a"/>
<rect x="499" y="696" width="6" height="8" fill="#26a69a"/>
<rect x="506" y="695" width="6" height="9" fill="#26a69a"/>
<rect x="513" y="690" width="5" height="14" fill="#26a69a"/>
<rect x="519" y="690" width="6" height="14" fill="#26a69a"/>
<rect x="526" y="690" width="6" height="14" fill="#ace5dc"/>
<rect x="533" y="686" width="6" height="18" fill="#26a69a"/>
<rect x="540" y="685" width="6" height="19" fill="#26a69a"/>
<rect x="547" y="685" width="6" height="19" fill="#ace5dc"/>
<rect x="554" y="682" width="5" height="22" fill="#26a69a"/>
<rect x="560" y="682" width="6" height="22" fill="#26a69a"/>
<rect x="567" y="677" width="6" height="27" fill="#26a69a"/>
<rect x="574" y="682" width="6" height="22" fill="#ace5dc"/>
<rect x="581" y="687" width="6" height="17" fill="#ace5dc"/>
<rect x="588" y="694" width="6" height="10" fill="#ace5dc"/>
<rect x="595" y="703" width="5" height="1" fill="#ff5252"/>
<rect x="601" y="703" width="6" height="5" fill="#ff5252"/>
<rect x="608" y="703" width="6" height="7" fill="#ff5252"/>
<rect x="615" y="703" width="6" height="10" fill="#ff5252"/>
<rect x="622" y="703" width="6" height="16" fill="#ff5252"/>
<rect x="629" y="703" width="6" height="22" fill="#ff5252"/>
<rect x="636" y="703" width="5" height="24" fill="#ff5252"/>
<rect x="642" y="703" width="6" height="24" fill="#ffcdd2"/>
<rect x="649" y="703" width="6" height="21" fill="#ffcdd2"/>
<rect x="656" y="703" width="6" height="18" fill="#ffcdd2"/>
<rect x="663" y="703" width="6" height="15" fill="#ffcdd2"/>
<rect x="670" y="703" width="6" height="10" fill="#ffcdd2"/>
<rect x="677" y="703" width="5" height="2" fill="#ffcdd2"/>
<rect x="683" y="699" width="6" height="5" fill="#26a69a"/>
<rect x="690" y="697" width="6" height="7" fill="#26a69a"/>
<rect x="697" y="692" width="6" height="12" fill="#26a69a"/>
<rect x="704" y="685" width="6" height="19" fill="#26a69a"/>
<rect x="711" y="680" width="6" height="24" fill="#26a69a"/>
<rect x="718" y="680" width="5" height="24" fill="#26a69a"/>
<rect x="724" y="677" width="6" height="27" fill="#26a69a"/>
<rect x="731" y="677" width="6" height="27" fill="#26a69a"/>
<rect x="738" y="681" width="6" height="23" fill="#ace5dc"/>
<rect x="745" y="683" width="6" height="21" fill="#ace5dc"/>
<rect x="752" y="686" width="5" height="18" fill="#ace5dc"/>
<rect x="758" y="689" width="6" height="15" fill="#ace5dc"/>
<rect x="765" y="685" width="6" height="19" fill="#26a69a"/>
<rect x="772" y="687" width="6" height="17" fill="#ace5dc"/>
<rect x="779" y="689" width="6" height="15" fill="#ace5dc"/>
<rect x="786" y="685" width="6" height="19" fill="#26a69a"/>
<rect x="793" y="685" width="5" height="19" fill="#ace5dc"/>
<rect x="799" y="686" width="6" height="18" fill="#ace5dc"/>
<rect x="806" y="686" width="6" height="18" fill="#26a69a"/>
<rect x="813" y="685" width="6" height="19" fill="#26a69a"/>
<rect x="820" y="688" width="6" height="16" fill="#ace5dc"/>
<rect x="827" y="702" width="6" height="2" fill="#ace5dc"/>
<rect x="834" y="703" width="5" height="6" fill="#ff5252"/>
<rect x="840" y="703" width="6" height="6" fill="#ff5252"/>
<rect x="847" y="703" width="6" height="8" fill="#ff5252"/>
<rect x="854" y="703" width="6" height="6" fill="#ffcdd2"/>
<rect x="861" y="703" width="6" height="7" fill="#ff5252"/>
<rect x="868" y="703" width="6" height="12" fill="#ff5252"/>
<rect x="875" y="703" width="5" height="13" fill="#ff5252"/>
<rect x="881" y="703" width="6" height="14" fill="#ff5252"/>
<rect x="888" y="703" width="6" height="23" fill="#ff5252"/>
<rect x="895" y="703" width="6" height="24" fill="#ff5252"/>
<rect x="902" y="703" width="6" height="24" fill="#ff5252"/>
<rect x="909" y="703" width="6" height="15" fill="#ffcdd2"/>
<rect x="916" y="703" width="5" height="9" fill="#ffcdd2"/>
<rect x="922" y="703" width="6" height="6" fill="#ffcdd2"/>
<rect x="929" y="703" width="6" height="4" fill="#ffcdd2"/>
<rect x="936" y="703" width="6" height="2" fill="#ffcdd2"/>
<rect x="943" y="702" width="6" height="2" fill="#26a69a"/>
<rect x="950" y="702" width="6" height="2" fill="#ace5dc"/>
<rect x="957" y="703" width="5" height="3" fill="#ff5252"/>
<rect x="963" y="703" width="6" height="2" fill="#ffcdd2"/>
<rect x="970" y="701" width="6" height="3" fill="#26a69a"/>
<rect x="977" y="703" width="6" height="2" fill="#ff5252"/>
<rect x="984" y="703" width="6" height="4" fill="#ff5252"/>
<rect x="991" y="703" width="6" height="4" fill="#ff5252"/>
<rect x="998" y="703" width="5" height="7" fill="#ff5252"/>
<rect x="1004" y="703" width="6" height="7" fill="#ff5252"/>
<rect x="1011" y="703" width="6" height="7" fill="#ff5252"/>
<rect x="1018" y="703" width="6" height="10" fill="#ff5252"/>
<rect x="1025" y="703" width="6" height="18" fill="#ff5252"/>
<rect x="1032" y="703" width="6" height="23" fill="#ff5252"/>
<rect x="1039" y="703" width="5" height="20" fill="#ffcdd2"/>
<rect x="1045" y="703" width="6" height="15" fill="#ffcdd2"/>
<rect x="1052" y="703" width="6" height="14" fill="#ffcdd2"/>
<rect x="1059" y="703" width="6" height="12" fill="#ffcdd2"/>
</g>
<polyline points="-3.3,678.2 3.5,678.2 10.5,678.5 17.5,672.2 24.5,668.5 31.5,666.2 37.5,664.8 44.5,662.3 51.5,661.0 58.5,660.2 65.5,659.7 72.5,660.7 78.5,664.3 85.5,668.2 92.5,670.7 99.5,674.0 106.5,675.5 113.5,676.2 119.5,674.7 126.5,672.3 133.5,671.0 140.5,669.7 147.5,663.5 154.5,659.7 160.5,657.3 167.5,656.7 174.5,657.3 181.5,656.7 188.5,655.7 195.5,655.3 201.5,655.0 208.5,655.2 215.5,651.0 222.5,647.3 229.5,643.5 236.5,641.8 242.5,641.0 249.5,645.5 256.5,646.3 263.5,643.0 270.5,638.3 277.5,634.2 283.5,632.5 290.5,627.2 297.5,620.5 304.5,612.0 311.5,596.7 317.5,590.5 324.5,599.7 331.5,615.0 338.5,632.2 345.5,646.7 352.5,658.0 358.5,661.3 365.5,663.3 372.5,665.3 379.5,663.3 386.5,662.2 393.5,665.0 399.5,675.0 406.5,685.0 413.5,692.5 420.5,698.7 427.5,704.2 434.5,712.0 440.5,712.5 447.5,710.3 454.5,706.7 461.5,703.0 468.5,705.0 475.5,708.3 481.5,709.2 488.5,705.3 495.5,699.2 502.5,693.7 509.5,690.8 516.5,682.5 522.5,678.3 529.5,675.8 536.5,666.7 543.5,660.8 550.5,657.5 557.5,648.7 563.5,643.3 570.5,632.5 577.5,631.3 584.5,633.0 591.5,637.5 598.5,647.5 604.5,651.7 611.5,655.0 618.5,660.0 625.5,670.0 632.5,680.8 639.5,688.3 645.5,693.3 652.5,695.3 659.5,697.8 666.5,697.5 673.5,695.0 680.5,687.5 686.5,680.8 693.5,677.2 700.5,668.3 707.5,658.0 714.5,648.0 721.5,640.8 727.5,632.5 734.5,624.8 741.5,624.3 748.5,620.6 755.5,620.2 761.5,618.9 768.5,609.8 775.5,607.7 782.5,606.2 789.5,597.2 796.5,593.9 802.5,590.2 809.5,585.2 816.5,580.3 823.5,579.2 830.5,593.5 837.5,600.5 843.5,601.7 850.5,605.5 857.5,604.5 864.5,608.3 871.5,614.7 878.5,619.5 884.5,623.3 891.5,637.2 898.5,644.2 905.5,650.3 912.5,643.7 919.5,640.8 925.5,638.0 932.5,637.8 939.5,635.3 946.5,633.0 953.5,633.7 960.5,636.2 966.5,636.2 973.5,632.8 980.5,636.2 987.5,638.0 994.5,638.8 1001.5,643.0 1007.5,644.5 1014.5,646.7 1021.5,651.7 1028.5,664.2 1035.5,674.2 1042.5,675.5 1048.5,675.0 1055.5,676.3 1062.5,677.3" fill="none" stroke="#2196f3" stroke-width="1.35" stroke-linejoin="round" stroke-linecap="round"/>
<polyline points="-3.3,673.3 3.5,674.3 10.5,675.2 17.5,674.8 24.5,673.5 31.5,672.2 37.5,670.5 44.5,669.0 51.5,667.2 58.5,665.8 65.5,664.5 72.5,663.8 78.5,663.8 85.5,664.7 92.5,666.0 99.5,667.7 106.5,669.3 113.5,670.7 119.5,671.5 126.5,671.7 133.5,671.5 140.5,671.0 147.5,669.7 154.5,667.7 160.5,665.5 167.5,663.8 174.5,662.5 181.5,661.3 188.5,660.2 195.5,659.2 201.5,658.3 208.5,657.7 215.5,656.3 222.5,654.7 229.5,652.3 236.5,650.2 242.5,648.3 249.5,647.7 256.5,647.3 263.5,646.7 270.5,644.7 277.5,642.8 283.5,640.8 290.5,638.0 297.5,634.7 304.5,630.0 311.5,623.7 317.5,617.0 324.5,613.8 331.5,613.8 338.5,617.0 345.5,623.0 352.5,630.5 358.5,636.7 365.5,642.5 372.5,646.7 379.5,650.0 386.5,652.2 393.5,655.0 399.5,658.8 406.5,664.2 413.5,670.0 420.5,676.2 427.5,682.2 434.5,688.3 440.5,693.7 447.5,696.7 454.5,698.7 461.5,699.7 468.5,700.8 475.5,702.5 481.5,703.7 488.5,703.8 495.5,702.8 502.5,701.2 509.5,698.8 516.5,695.8 522.5,691.7 529.5,688.3 536.5,684.2 543.5,679.2 550.5,675.0 557.5,669.7 563.5,664.7 570.5,658.0 577.5,653.0 584.5,648.8 591.5,646.7 598.5,646.7 604.5,647.8 611.5,649.5 618.5,651.7 625.5,655.3 632.5,660.5 639.5,665.8 645.5,671.7 652.5,676.3 659.5,680.8 666.5,684.2 673.5,686.3 680.5,686.7 686.5,685.5 693.5,684.2 700.5,681.3 707.5,677.2 714.5,671.2 721.5,664.5 727.5,658.0 734.5,651.2 741.5,645.8 748.5,640.5 755.5,636.7 761.5,632.8 768.5,628.1 775.5,623.7 782.5,620.6 789.5,615.6 796.5,611.7 802.5,607.2 809.5,602.7 816.5,598.7 823.5,594.8 830.5,594.6 837.5,595.8 843.5,597.2 850.5,598.8 857.5,600.0 864.5,601.7 871.5,604.2 878.5,607.5 884.5,610.5 891.5,616.2 898.5,622.0 905.5,627.5 912.5,630.8 919.5,632.5 925.5,633.7 932.5,634.3 939.5,634.7 946.5,634.3 953.5,634.2 960.5,634.5 966.5,634.7 973.5,634.7 980.5,635.0 987.5,635.5 994.5,636.2 1001.5,637.5 1007.5,638.8 1014.5,640.5 1021.5,642.8 1028.5,647.2 1035.5,652.2 1042.5,657.0 1048.5,660.5 1055.5,663.8 1062.5,666.7" fill="none" stroke="#ff6d00" stroke-width="1.35" stroke-linejoin="round" stroke-linecap="round"/>
<text x="1574.2" y="7.9" fill="#131722">100.00</text>
<text x="1574.2" y="95.5" fill="#131722">90.00</text>
<text x="1574.2" y="138.6" fill="#131722">85.00</text>
<text x="1574.2" y="182.3" fill="#131722">80.00</text>
<text x="1574.2" y="225.9" fill="#131722">75.00</text>
<text x="1574.2" y="269.5" fill="#131722">70.00</text>
<text x="1574.2" y="312.8" fill="#131722">65.00</text>
<text x="1574.2" y="356.6" fill="#131722">60.00</text>
<text x="1574.2" y="420.5" fill="#131722">80.00</text>
<text x="1574.2" y="472.3" fill="#131722">60.00</text>
<text x="1574.2" y="523.6" fill="#131722">40.00</text>
<text x="1574.2" y="634.5" fill="#131722">2.00</text>
<text x="1574.2" y="708.4" fill="#131722">0.00</text>
<path d="M1564,26H1616.8Q1618.8,26 1618.8,28V44.5Q1618.8,46.5 1616.8,46.5H1564Z" fill="#089981"/>
<text x="1574.6" y="41.4" fill="#fff">93.77</text>
<path d="M1564,46.5H1616.8Q1618.8,46.5 1618.8,48.5V65.5Q1618.8,67.5 1616.8,67.5H1564Z" fill="#089981"/>
<text x="1574.6" y="62.1" fill="#fff">93.75</text>
<path d="M1564,69.3H1616.8Q1618.8,69.3 1618.8,71.3V87.8Q1618.8,89.8 1616.8,89.8H1564Z" fill="#2196f3"/>
<text x="1574.6" y="84.6" fill="#fff">91.23</text>
<path d="M1564,472.1H1616.8Q1618.8,472.1 1618.8,474.1V490.7Q1618.8,492.7 1616.8,492.7H1564Z" fill="#9d55c3"/>
<text x="1574.6" y="487.5" fill="#fff">54.18</text>
<path d="M1564,646H1608.5Q1610.5,646 1610.5,648V665Q1610.5,667 1608.5,667H1564Z" fill="#ff6d00"/>
<text x="1574.6" y="661.6" fill="#fff">0.99</text>
<path d="M1564,667H1608.5Q1610.5,667 1610.5,669V685.8Q1610.5,687.8 1608.5,687.8H1564Z" fill="#2196f3"/>
<text x="1574.6" y="682.5" fill="#fff">0.70</text>
<path d="M1564,704.2H1616.8Q1618.8,704.2 1618.8,706.2V722.8Q1618.8,724.8 1616.8,724.8H1564Z" fill="#fccbcd"/>
<text x="1574.6" y="719.6" fill="#131722" textLength="36.5" lengthAdjust="spacingAndGlyphs">−0.29</text>
<text x="11" y="25.8" fill="#131722" textLength="286.3" lengthAdjust="spacingAndGlyphs">Silver US Dollars per Ounce Spot Prices, 4h</text>
<text x="307.3" y="25.8" fill="#131722" textLength="9.5" lengthAdjust="spacingAndGlyphs">O</text>
<text x="317.8" y="25.8" fill="#089981" textLength="35.5" lengthAdjust="spacingAndGlyphs">93.55</text>
<text x="363.7" y="25.8" fill="#131722" textLength="8.8" lengthAdjust="spacingAndGlyphs">H</text>
<text x="373.3" y="25.8" fill="#089981" textLength="35.9" lengthAdjust="spacingAndGlyphs">94.39</text>
<text x="419.5" y="25.8" fill="#131722" textLength="7" lengthAdjust="spacingAndGlyphs">L</text>
<text x="427" y="25.8" fill="#089981" textLength="35.8" lengthAdjust="spacingAndGlyphs">92.89</text>
<text x="472.8" y="25.8" fill="#131722" textLength="8.6" lengthAdjust="spacingAndGlyphs">C</text>
<text x="482" y="25.8" fill="#089981" textLength="35.8" lengthAdjust="spacingAndGlyphs">93.75</text>
<text x="528" y="25.8" fill="#089981" textLength="97.3" lengthAdjust="spacingAndGlyphs">+0.20 (+0.21%)</text>
<text x="11" y="46.7" fill="#131722" textLength="112.3" lengthAdjust="spacingAndGlyphs">MA (50, close, 0)</text>
<text x="132.8" y="46.7" fill="#2196f3" textLength="36.4" lengthAdjust="spacingAndGlyphs">91.23</text>
<text x="11" y="67.5" fill="#131722" textLength="112.3" lengthAdjust="spacingAndGlyphs">MA (21, close, 0)</text>
<text x="133.3" y="67.5" fill="#089981" textLength="36.4" lengthAdjust="spacingAndGlyphs">93.77</text>
<text x="11.3" y="398.5" fill="#131722" textLength="50.4" lengthAdjust="spacingAndGlyphs">RSI (14)</text>
<text x="71.7" y="398.5" fill="#9b59c8" textLength="36.6" lengthAdjust="spacingAndGlyphs">54.18</text>
<text x="11" y="586" fill="#131722" textLength="156.2" lengthAdjust="spacingAndGlyphs">MACD (12, 26, close, 9)</text>
<text x="177.5" y="586" fill="#fcc3c7" textLength="35.8" lengthAdjust="spacingAndGlyphs">−0.29</text>
<text x="223.3" y="586" fill="#2196f3" textLength="28" lengthAdjust="spacingAndGlyphs">0.70</text>
<text x="260.8" y="586" fill="#ff6d00" textLength="28" lengthAdjust="spacingAndGlyphs">0.99</text>
<text x="10.2" y="769.8" fill="#131722" text-anchor="middle" textLength="15.7" lengthAdjust="spacingAndGlyphs">17</text>
<text x="133.4" y="769.8" fill="#131722" text-anchor="middle" textLength="15.7" lengthAdjust="spacingAndGlyphs">20</text>
<text x="262.9" y="769.8" fill="#131722" text-anchor="middle" textLength="15.7" lengthAdjust="spacingAndGlyphs">26</text>
<text x="433.8" y="769.8" fill="#131722" text-anchor="middle" font-weight="bold">2026</text>
<text x="570.2" y="769.8" fill="#131722" text-anchor="middle">7</text>
<text x="693.4" y="769.8" fill="#131722" text-anchor="middle" textLength="15.7" lengthAdjust="spacingAndGlyphs">10</text>
<text x="823.2" y="769.8" fill="#131722" text-anchor="middle" textLength="15.7" lengthAdjust="spacingAndGlyphs">15</text>
<text x="952.6" y="769.8" fill="#131722" text-anchor="middle" textLength="15.7" lengthAdjust="spacingAndGlyphs">20</text>
<text x="1075.4" y="769.8" fill="#131722" text-anchor="middle" textLength="15.7" lengthAdjust="spacingAndGlyphs">23</text>
<text x="1198.5" y="769.8" fill="#131722" text-anchor="middle" textLength="15.7" lengthAdjust="spacingAndGlyphs">26</text>
<text x="1321.4" y="769.8" fill="#131722" text-anchor="middle" textLength="15.7" lengthAdjust="spacingAndGlyphs">29</text>
<text x="1444.5" y="769.8" fill="#131722" text-anchor="middle" textLength="24.3" lengthAdjust="spacingAndGlyphs">Feb</text>
<rect x="0" y="0" width="1632" height="1.8" fill="#e9ebf1"/>
<rect x="0" y="1.8" width="1564" height="0.8" fill="#f1f3f7"/>
<rect x="0" y="0" width="2" height="783" fill="#e9ebf1"/>
<rect x="1630.2" y="0" width="1.8" height="783" fill="#e9ebf1"/>
<rect x="0" y="781.3" width="1632" height="1.7" fill="#e9ebf1"/>
</svg>
</body></html>
